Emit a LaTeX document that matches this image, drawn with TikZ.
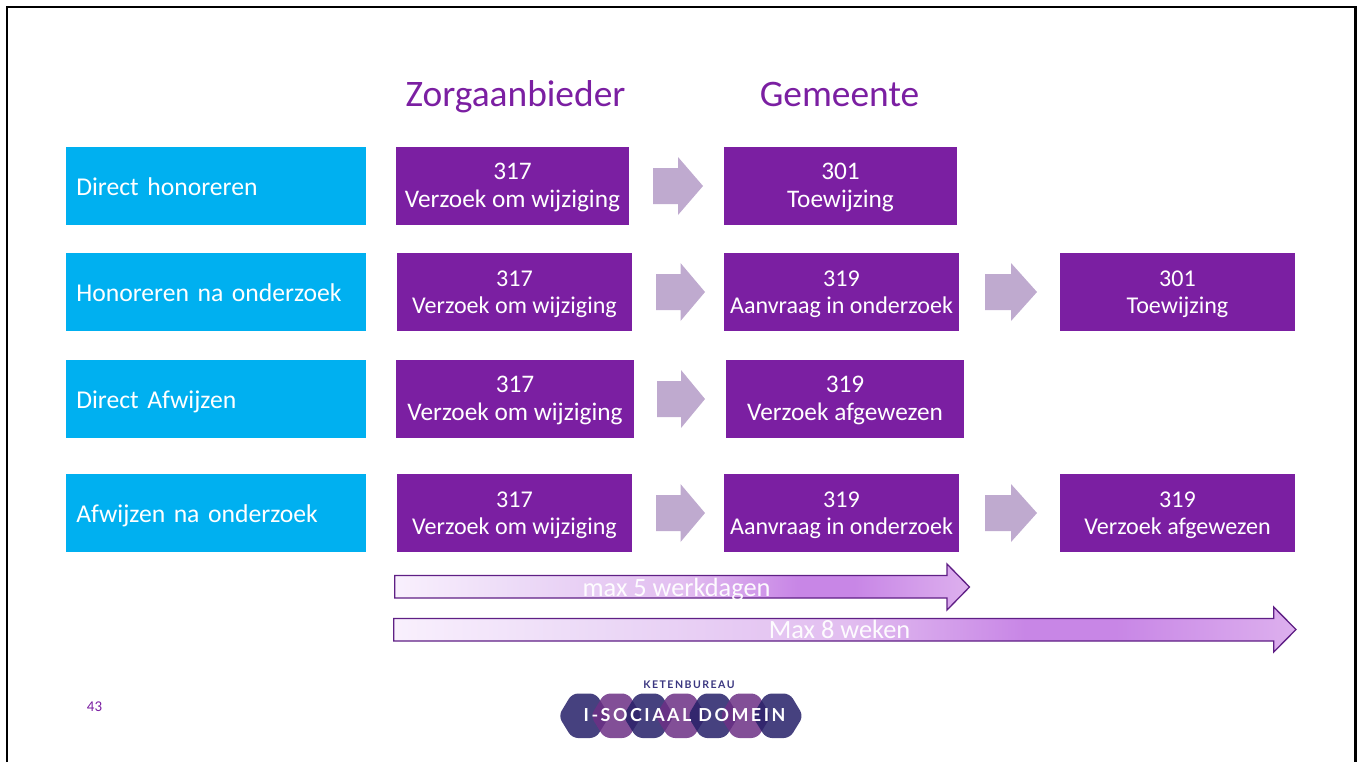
\documentclass[tikz,border=0pt]{standalone}
\usepackage{fontspec}
\usepackage{tikz}
\setmainfont{Carlito}
\newfontfamily\logofont[LetterSpace=14]{Lato}
\definecolor{paars}{HTML}{7B1FA2}
\definecolor{blauw}{HTML}{00B0F0}
\definecolor{pijlgrijs}{HTML}{BFAACF}
\definecolor{pijlrand}{HTML}{5F1F85}
\definecolor{hexblauw}{HTML}{262068}
\definecolor{hexpaars}{HTML}{6C3085}
\definecolor{gradA}{HTML}{F9F0FD}
\definecolor{gradB}{HTML}{ECDAF7}
\definecolor{gradC}{HTML}{E2BEF0}
\definecolor{gradD}{HTML}{C886E6}
\definecolor{gradE}{HTML}{DDB0EE}
\definecolor{logotxt}{HTML}{3A3680}
\pgfdeclarehorizontalshading{tijdpijl}{100bp}{color(0bp)=(gradA); color(25bp)=(gradA); color(36bp)=(gradB); color(50bp)=(gradC); color(60bp)=(gradD); color(65bp)=(gradD); color(75bp)=(gradE); color(100bp)=(gradE)}
\tikzset{
  blauwbox/.style={fill=blauw,text=white,anchor=west,align=left,inner sep=0pt,minimum height=78*0.02cm,minimum width=300*0.02cm,text width=300*0.02cm,text height=13pt,text depth=1.66pt,font=\fontsize{14.6}{17}\selectfont},
  paarsbox/.style={fill=paars,text=white,align=center,inner sep=0pt,minimum height=78*0.02cm,font=\fontsize{13.7}{15.4}\selectfont},
  paarsgroot/.style={paarsbox,font=\fontsize{14.4}{16}\selectfont},
  kop/.style={text=paars,inner sep=0pt,anchor=base,font=\fontsize{21.3}{25}\selectfont},
  tijdtekst/.style={text=white,inner sep=0pt,anchor=base,opacity=0.95,font=\fontsize{15}{17}\selectfont},
}
\begin{document}
\begin{tikzpicture}[x=0.02cm,y=-0.02cm]
\useasboundingbox (0,0) rectangle (1362,762);
\draw[line width=2.6*0.02cm] (7,762) -- (7,7) -- (1355.5,7) -- (1355.5,762);
\node[kop] (kopzorg) at (515.5,106) {Zorgaanbieder};
\node[kop] (kopgem) at (839.5,106) {Gemeente};
% rijen links
\foreach \nm/\y/\txt in {rijA/186/Direct honoreren,rijB/292/Honoreren na onderzoek,rijC/399/Direct Afwijzen,rijD/513/Afwijzen na onderzoek} {
\node[blauwbox] (\nm) at (66,\y) {\hspace*{0.2cm}\txt};
}
% paarse blokken
\node[paarsgroot,minimum width=233*0.02cm] (aA) at (512.5,186) {\rule{0pt}{10.6pt}317\\Verzoek om wijziging};
\node[paarsgroot,minimum width=233*0.02cm] (bA) at (840.5,186) {\rule{0pt}{10.6pt}301\\Toewijzing};
\node[paarsbox,minimum width=235*0.02cm] (aB) at (514.5,292) {\rule{0pt}{11.9pt}317\\Verzoek om wijziging};
\node[paarsbox,minimum width=235*0.02cm] (bB) at (841.5,292) {\rule{0pt}{11.9pt}319\\Aanvraag in onderzoek};
\node[paarsbox,minimum width=235*0.02cm] (cB) at (1177.5,292) {\rule{0pt}{11.9pt}301\\Toewijzing};
\node[paarsgroot,minimum width=238*0.02cm] (aC) at (515,399) {\rule{0pt}{10.6pt}317\\Verzoek om wijziging};
\node[paarsgroot,minimum width=238*0.02cm] (bC) at (845,399) {\rule{0pt}{10.6pt}319\\Verzoek afgewezen};
\node[paarsbox,minimum width=235*0.02cm] (aD) at (514.5,513) {\rule{0pt}{11.9pt}317\\Verzoek om wijziging};
\node[paarsbox,minimum width=235*0.02cm] (bD) at (841.5,513) {\rule{0pt}{11.9pt}319\\Aanvraag in onderzoek};
\node[paarsbox,minimum width=235*0.02cm] (cD) at (1177.5,513) {\rule{0pt}{11.9pt}319\\Verzoek afgewezen};
% pijlen tussen de blokken
\foreach \xa/\xb/\y in {653/703/186,656/705/292,985/1037/292,657/705/399,656/705/513,985/1037/513} {
\fill[pijlgrijs] (\xa,\y-18) -- ({(\xa+\xb)/2},\y-18) -- ({(\xa+\xb)/2},\y-29) -- (\xb,\y) -- ({(\xa+\xb)/2},\y+29) -- ({(\xa+\xb)/2},\y+18) -- (\xa,\y+18) -- cycle;
}
% tijdpijlen
\draw[pijlrand,line width=1.3*0.02cm,shading=tijdpijl] (394.7,575.5) -- (947,575.5) -- (947,564) -- (969.5,587) -- (947,610) -- (947,598) -- (394.7,598) -- cycle;
\draw[pijlrand,line width=1.3*0.02cm,shading=tijdpijl] (393.7,618.5) -- (1273.7,618.5) -- (1273.7,607) -- (1296,629.5) -- (1273.7,652) -- (1273.7,641) -- (393.7,641) -- cycle;
\node[tijdtekst] (tekstA) at (676.5,596) {max 5 werkdagen};
\node[tijdtekst] (tekstB) at (839.5,638) {Max 8 weken};
\node[text=paars,inner sep=0pt,font=\fontsize{8.5}{10}\selectfont] (pagina) at (94.5,707) {43};
% logo
\foreach \i/\kl in {0/hexblauw,1/hexpaars,2/hexblauw,3/hexpaars,4/hexblauw,5/hexpaars,6/hexblauw} {
\fill[\kl,opacity=0.85,rounded corners=6*0.02cm] ({584+32.3*\i-25.5},716) -- ({584+32.3*\i-12},693.5) -- ({584+32.3*\i+12},693.5) -- ({584+32.3*\i+25.5},716) -- ({584+32.3*\i+12},738) -- ({584+32.3*\i-12},738) -- cycle;
}
\node[text=white,inner sep=0pt,font=\logofont\bfseries\fontsize{10.2}{12}\selectfont] (logotekst) at (684.5,715) {I-SOCIAAL DOMEIN};
\node[text=logotxt,inner sep=0pt,font=\logofont\bfseries\fontsize{6}{7}\selectfont] (logokop) at (689,685) {KETENBUREAU};
\end{tikzpicture}
\end{document}
